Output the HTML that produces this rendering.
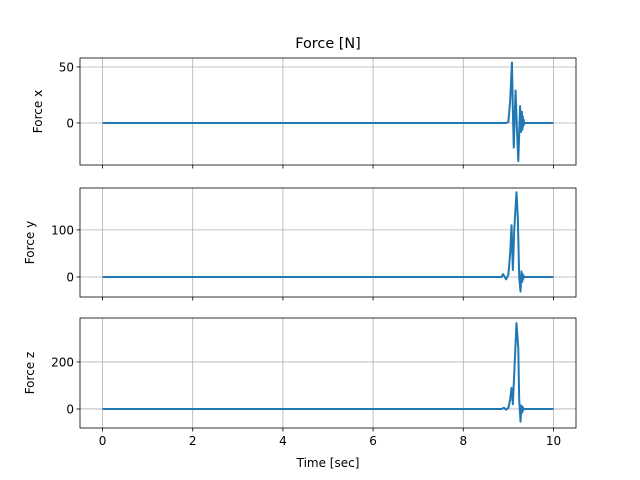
<!DOCTYPE html>
<html><head><meta charset="utf-8"><style>
body{margin:0;background:#fff}
svg{display:block;font-family:"DejaVu Sans","Liberation Sans",sans-serif}
</style></head><body>
<svg id="c" width="640" height="480" xmlns="http://www.w3.org/2000/svg">
<text x="328" y="48" font-size="14.4" text-anchor="middle">Force [N]</text>
<text x="328" y="467" font-size="12" text-anchor="middle">Time [sec]</text>
</svg>
<script>
const xTicks=[0,2,4,6,8,10];
const tX=[0,8.85,8.9,8.95,9.0,9.04,9.08,9.1,9.12,9.14,9.16,9.19,9.22,9.24,9.26,9.28,9.3,9.31,9.32,9.33,9.34,9.35,9.37,9.4,10];
const fX=[0,0,0,0,1,20,54,10,-22,5,29,-5,-34,-10,15,-8,10,-6,6,-3,3,-1,0,0,0];
const tY=[0,8.85,8.88,8.92,8.95,9.0,9.04,9.07,9.1,9.13,9.18,9.21,9.24,9.27,9.29,9.31,9.32,9.33,9.34,9.36,9.4,10];
const fY=[0,0,6,0,-5,5,50,110,15,100,180,126,0,-31,12,-10,6,-4,2,0,0,0];
const tZ=[0,8.85,8.9,8.95,9.0,9.04,9.07,9.1,9.13,9.18,9.22,9.24,9.27,9.29,9.31,9.32,9.34,9.36,9.4,10];
const fZ=[0,0,5,-3,5,40,90,20,150,365,260,40,-54,15,-15,8,-3,0,0,0];
const yTicksX=[0,50], yTicksY=[0,100], yTicksZ=[0,200];
const panels=[
 {t:tX,f:fX,ticks:yTicksX,top:58,bot:165,min:-37.5,max:58,label:"Force x",name:"force-x",lx:42},
 {t:tY,f:fY,ticks:yTicksY,top:188,bot:297,min:-42.5,max:189,label:"Force y",name:"force-y",lx:34},
 {t:tZ,f:fZ,ticks:yTicksZ,top:318,bot:428,min:-81,max:387,label:"Force z",name:"force-z",lx:34}];
const svg=document.getElementById('c');
const NS="http://www.w3.org/2000/svg";
const L=80,R=576;
const xs=v=>L+(v+0.5)/11*(R-L);
function mk(tag,attrs,parent){const e=document.createElementNS(NS,tag);for(const k in attrs)e.setAttribute(k,attrs[k]);(parent||svg).appendChild(e);return e;}
panels.forEach((p,i)=>{
 const ys=v=>p.bot-(v-p.min)/(p.max-p.min)*(p.bot-p.top);
 const g=mk('g',{});
 
 
 xTicks.forEach(v=>{const x=xs(v);
  const gl=mk('line',{x1:x,x2:x,y1:p.top,y2:p.bot,stroke:'#b0b0b0','stroke-width':0.8},g);
  
  
  mk('line',{x1:x,x2:x,y1:p.bot,y2:p.bot+3.5,stroke:'#000','stroke-width':0.8},g);
  if(i==2){const t=mk('text',{x:x,y:p.bot+17,'font-size':12,'text-anchor':'middle'},g);t.textContent=v;
   
   }
 });
 p.ticks.forEach(v=>{const y=ys(v);
  const gl=mk('line',{x1:L,x2:R,y1:y,y2:y,stroke:'#b0b0b0','stroke-width':0.8},g);
  
  
  mk('line',{x1:L-3.5,x2:L,y1:y,y2:y,stroke:'#000','stroke-width':0.8},g);
  const t=mk('text',{x:L-6,y:y+4.5,'font-size':12,'text-anchor':'end'},g);t.textContent=v;
  
  
 });
 const d=p.t.map((t,j)=>(j?'L':'M')+xs(t).toFixed(2)+' '+ys(p.f[j]).toFixed(2)).join(' ');
 const path=mk('path',{d:d,fill:'none',stroke:'#1f77b4','stroke-width':2,'stroke-linejoin':'round'},g);
 
 
 mk('rect',{x:L,y:p.top,width:R-L,height:p.bot-p.top,fill:'none',stroke:'#000','stroke-width':0.8},g);
 const cy=(p.top+p.bot)/2;
 const lab=mk('text',{x:0,y:0,'font-size':12,'text-anchor':'middle',transform:`translate(${p.lx},${cy}) rotate(-90)`},g);
 lab.textContent=p.label;
 
 
});
</script>
</body></html>
